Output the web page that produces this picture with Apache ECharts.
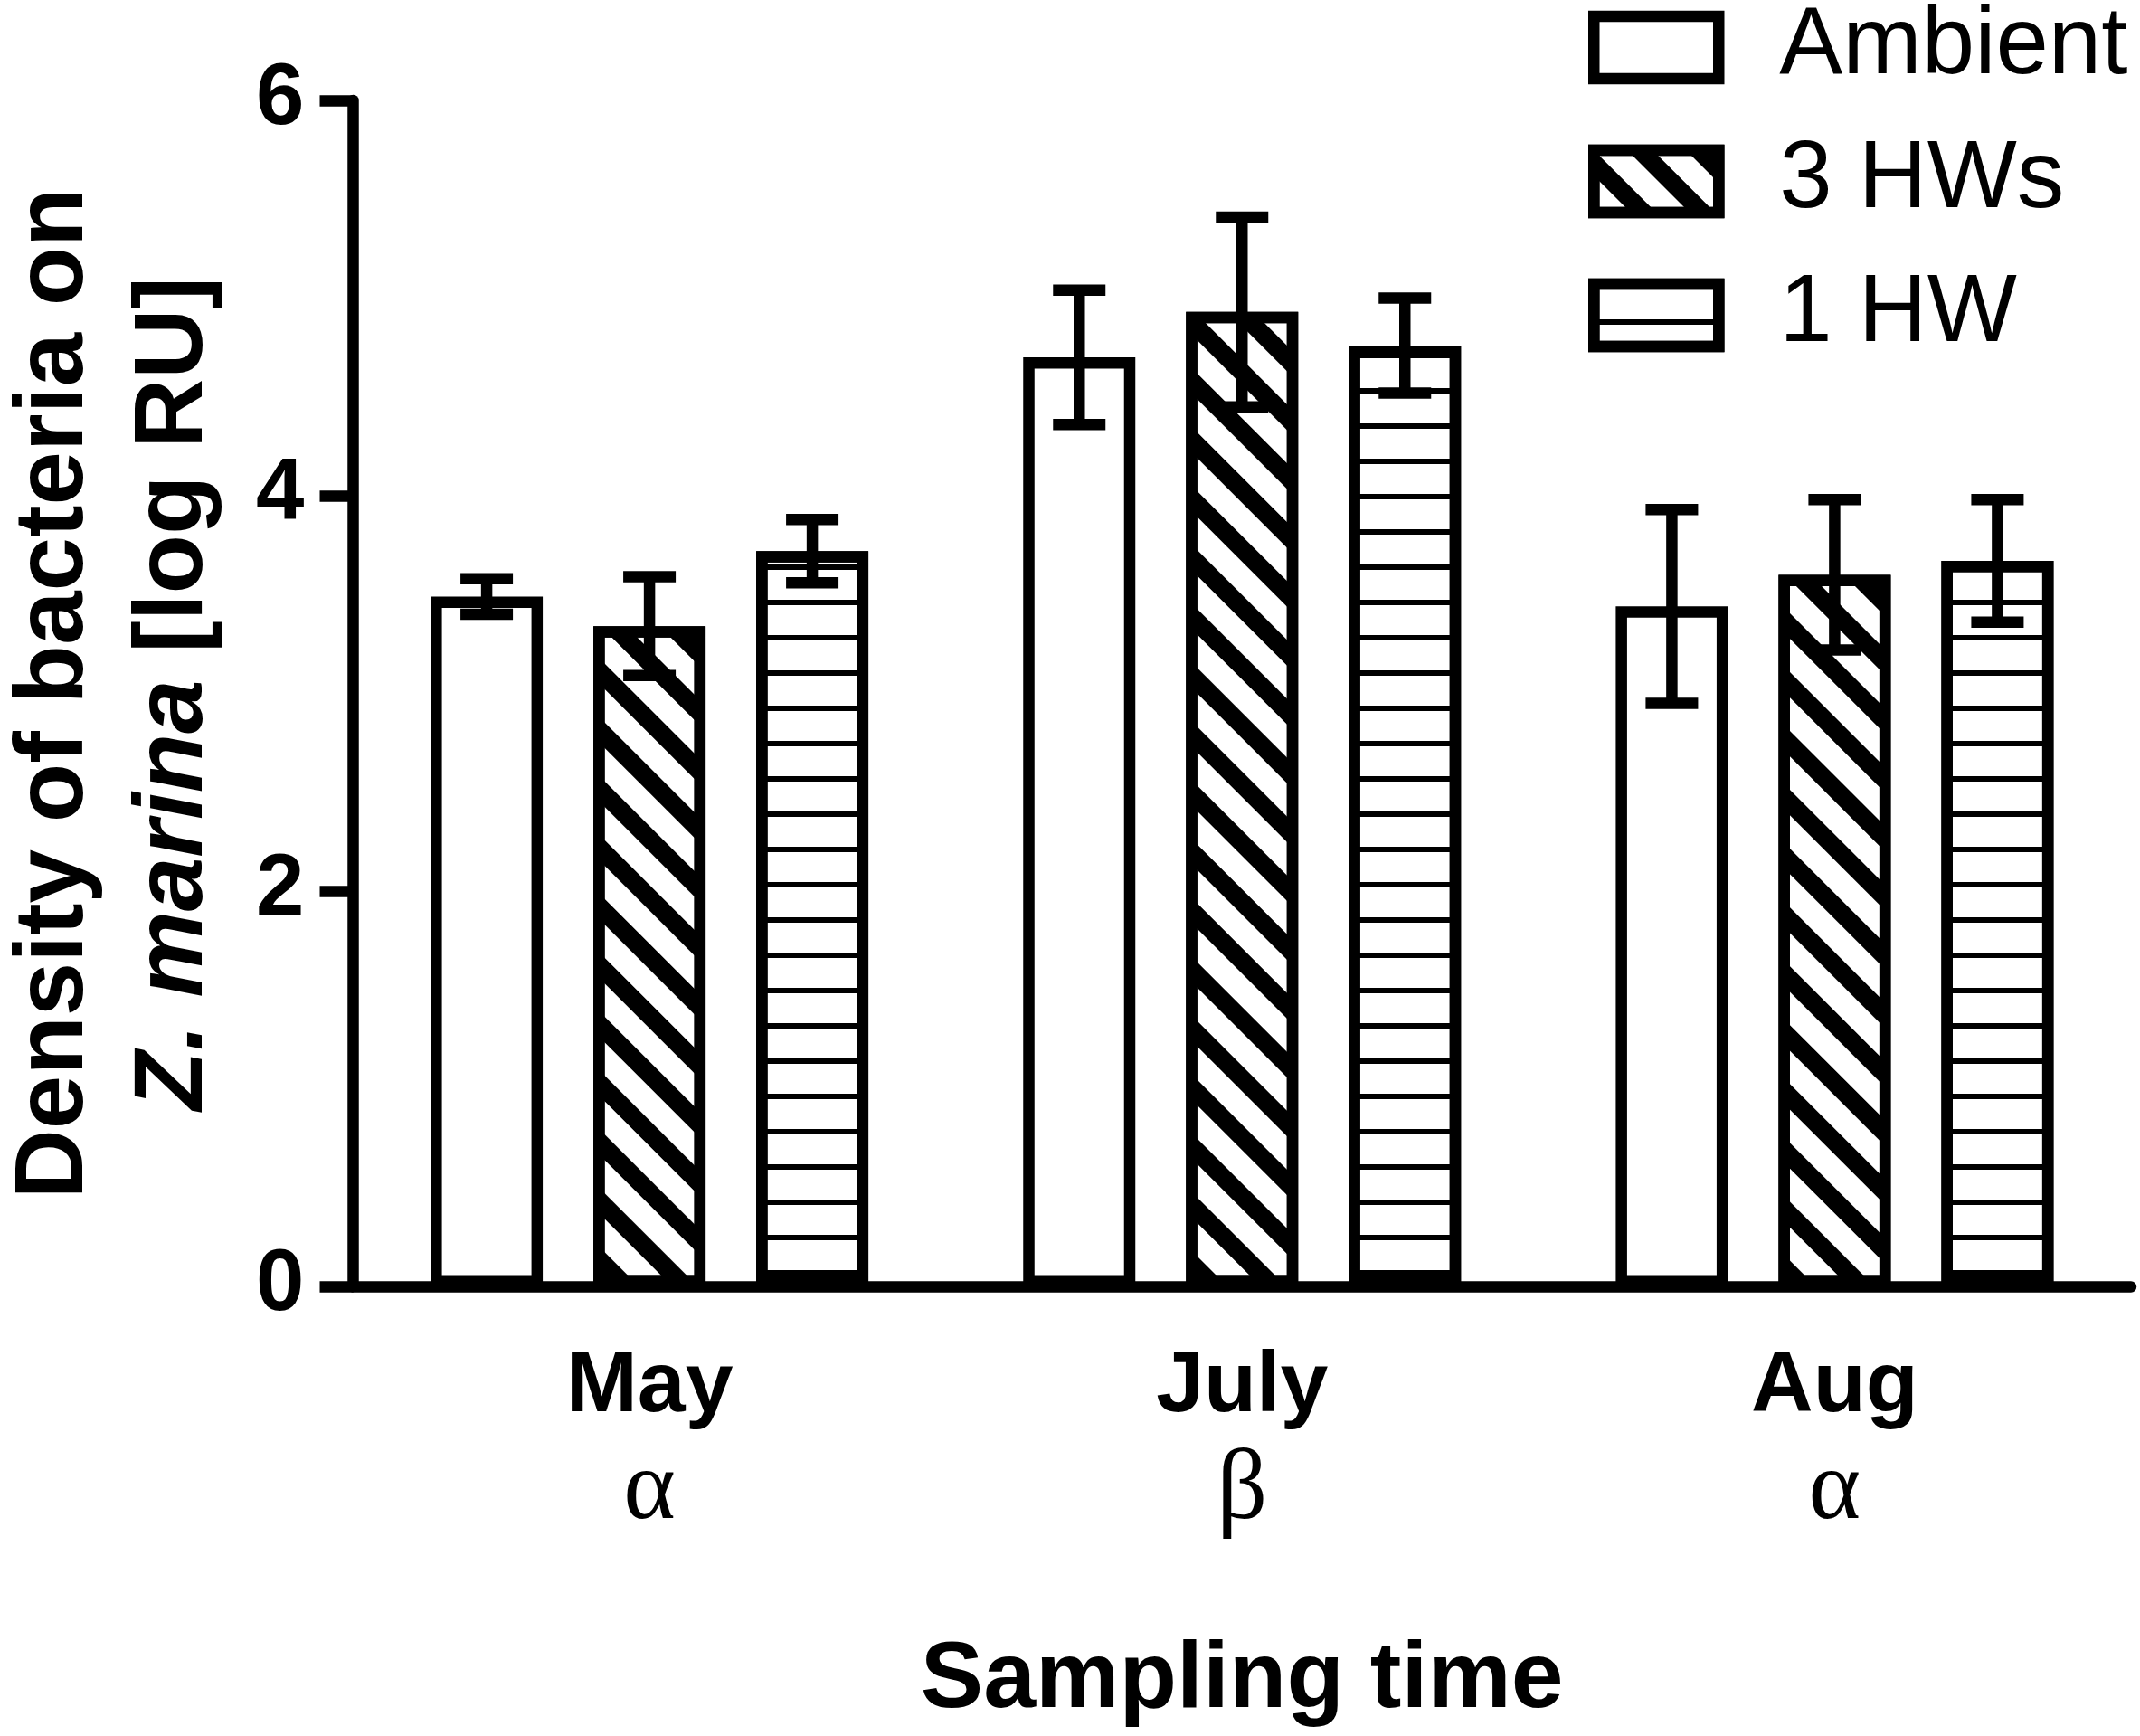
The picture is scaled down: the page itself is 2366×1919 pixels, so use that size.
<!DOCTYPE html>
<html>
<head>
<meta charset="utf-8">
<script src="https://cdn.jsdelivr.net/npm/echarts@6/dist/echarts.min.js"></script>
<style>
html, body { margin: 0; padding: 0; background: #fff; }
#chart { width: 2366px; height: 1919px; }
</style>
</head>
<body>
<div id="chart"></div>
<script>
// values (log RU), mean and SEM
var months = ['May', 'July', 'Aug'];
var greek = ['α', 'β', 'α'];
var seriesNames = ['Ambient', '3 HWs', '1 HW'];
var ambient = [3.49, 4.70, 3.44];
var ambientErr = [0.09, 0.34, 0.49];
var hw3 = [3.34, 4.93, 3.60];
var hw3Err = [0.25, 0.48, 0.38];
var hw1 = [3.72, 4.76, 3.67];
var hw1Err = [0.16, 0.24, 0.31];
var yMin = 0, yMax = 6, yStep = 2;

var FONT = 'Liberation Sans, Arial, sans-serif';
var barW = 124;
var barGapPx = 56;
var lw = 12.5;

var means = [ambient, hw3, hw1];
var errs = [ambientErr, hw3Err, hw1Err];

// error bar rows: [category, low, high, series index]
var errRows = [];
for (var k = 0; k < 3; k++) {
    for (var i = 0; i < months.length; i++) {
        errRows.push([i, means[k][i] - errs[k][i], means[k][i] + errs[k][i], k]);
    }
}

var decals = [
    null,
    { symbol: 'rect', symbolSize: 1, color: '#000', backgroundColor: null,
      dashArrayX: [1, 0], dashArrayY: [20, 26], rotation: Math.PI / 4 },
    { symbol: 'rect', symbolSize: 1, color: '#000', backgroundColor: null,
      dashArrayX: [1, 0], dashArrayY: [6, 33], rotation: 0 }
];

var barSeries = seriesNames.map(function (name, k) {
    var style = { color: '#fff', borderColor: '#000', borderWidth: lw };
    if (decals[k]) style.decal = decals[k];
    return {
        name: name,
        type: 'bar',
        data: means[k],
        barWidth: barW,
        barGap: (barGapPx / barW * 100) + '%',
        itemStyle: style,
        emphasis: { disabled: true },
        z: 2
    };
});

function renderErr(params, api) {
    var cat = api.value(0), lo = api.value(1), hi = api.value(2), k = api.value(3);
    var off = (k - 1) * (barW + barGapPx);
    var pTop = api.coord([cat, hi]);
    var pBot = api.coord([cat, lo]);
    var x = pTop[0] + off;
    var half = 29;
    var st = { stroke: '#000', lineWidth: lw, fill: null };
    return {
        type: 'group',
        children: [
            { type: 'line', shape: { x1: x, y1: pTop[1], x2: x, y2: pBot[1] }, style: st },
            { type: 'line', shape: { x1: x - half, y1: pTop[1], x2: x + half, y2: pTop[1] }, style: st },
            { type: 'line', shape: { x1: x - half, y1: pBot[1], x2: x + half, y2: pBot[1] }, style: st }
        ]
    };
}

var chart = echarts.init(document.getElementById('chart'));
chart.setOption({
    backgroundColor: '#fff',
    animation: false,
    legend: {
        data: seriesNames,
        orient: 'vertical',
        left: 1756,
        top: 0,
        padding: 0,
        icon: 'rect',
        itemWidth: 138,
        itemHeight: 69,
        itemGap: 43,
        selectedMode: false,
        itemStyle: { borderWidth: lw, borderColor: '#000' },
        textStyle: {
            fontFamily: FONT, fontSize: 105, color: '#000',
            lineHeight: 81, padding: [0, 0, 0, 62]
        }
    },
    grid: { left: 380, right: 10, top: 111, bottom: 497, containLabel: false },
    xAxis: {
        type: 'category',
        data: months,
        name: 'Sampling time',
        nameLocation: 'middle',
        nameGap: 384,
        nameTextStyle: { fontFamily: FONT, fontWeight: 'bold', fontSize: 104, color: '#000' },
        axisLine: { lineStyle: { color: '#000', width: lw } },
        axisTick: { alignWithLabel: true, length: 36, lineStyle: { color: '#000', width: lw } },
        axisLabel: {
            margin: 57,
            formatter: function (v, i) { return '{a|' + v + '}\n{b|' + greek[i] + '}'; },
            rich: {
                a: { fontFamily: FONT, fontWeight: 'bold', fontSize: 95, color: '#000', lineHeight: 110 },
                b: { fontFamily: 'Liberation Serif, Times New Roman, serif', fontSize: 110, color: '#000', lineHeight: 120 }
            }
        }
    },
    yAxis: {
        type: 'value',
        min: yMin,
        max: yMax,
        interval: yStep,
        name: '{a|Density of bacteria on}\n{b|Z. marina}{a| [log RU]}',
        nameLocation: 'middle',
        nameRotate: 90,
        nameGap: 131,
        nameTextStyle: {
            align: 'center',
            rich: {
                a: { fontFamily: FONT, fontWeight: 'bold', fontSize: 107, color: '#000', lineHeight: 132 },
                b: { fontFamily: FONT, fontWeight: 'bold', fontStyle: 'italic', fontSize: 107, color: '#000', lineHeight: 132 }
            }
        },
        splitLine: { show: false },
        axisLine: { show: true, lineStyle: { color: '#000', width: lw } },
        axisTick: { show: true, length: 37, lineStyle: { color: '#000', width: lw } },
        axisLabel: { margin: 54, fontFamily: FONT, fontWeight: 'bold', fontSize: 96, color: '#000' }
    },
    series: barSeries.concat([{
        name: 'SEM',
        type: 'custom',
        renderItem: renderErr,
        data: errRows,
        encode: { x: 0, y: [1, 2] },
        z: 5,
        silent: true
    }])
});
</script>
</body>
</html>
